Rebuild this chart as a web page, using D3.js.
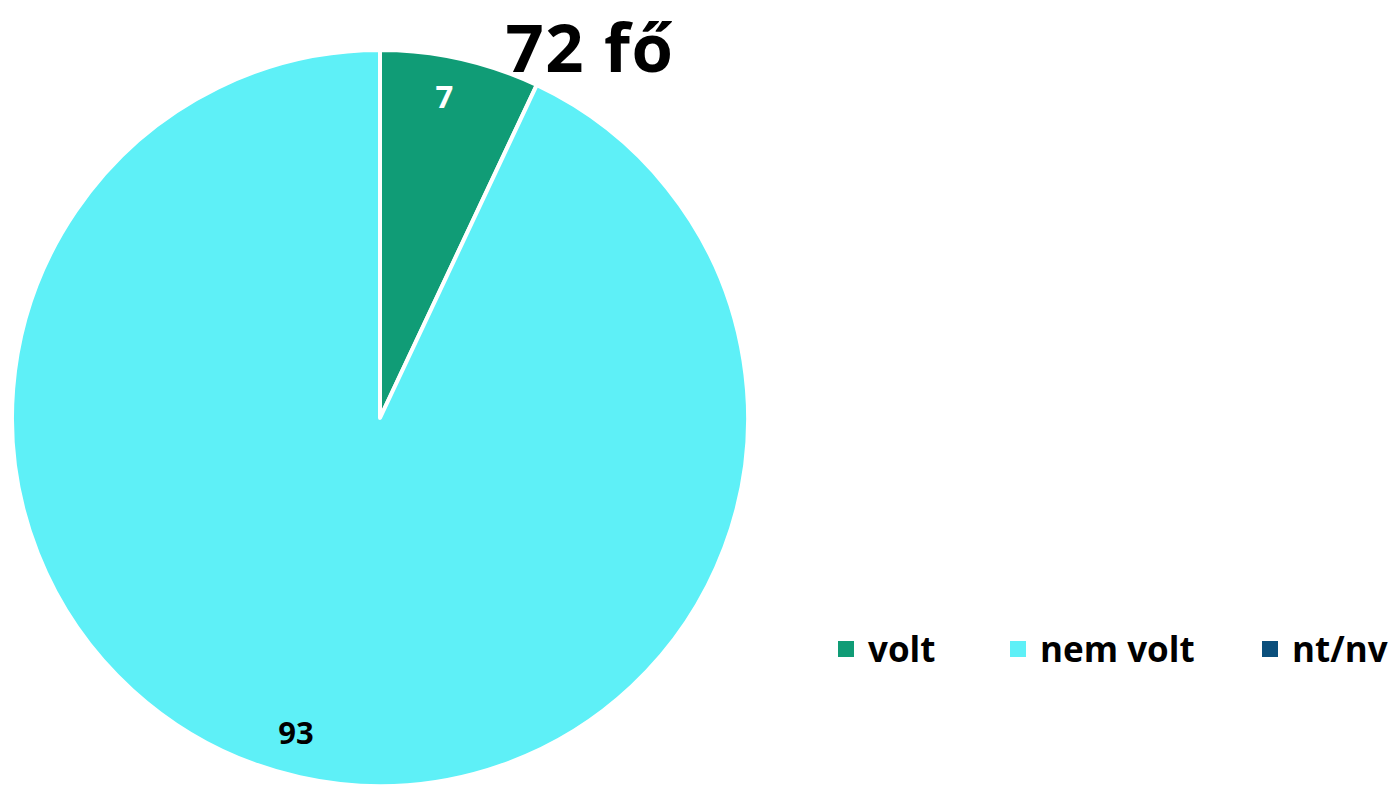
<!DOCTYPE html>
<html>
<head>
<meta charset="utf-8">
<title>72 fő</title>
<script src="https://cdn.jsdelivr.net/npm/d3@7"></script>
<style>
  * { margin: 0; padding: 0; }
  body { background: #fff; }
  text { font-family: "Open Sans", "DejaVu Sans", sans-serif; font-weight: bold; }
</style>
</head>
<body>
<div id="show"></div>
<script>
  // adatok
  var categories = ["volt", "nem volt", "nt/nv"];
  var values = [7, 93, 0];
  var colors = ["#109c76", "#5ef0f7", "#0b4f7c"];
  var labelColors = ["#ffffff", "#000000", "#ffffff"];
  var title = "72 fő";

  var width = 1400, height = 786;
  var cx = 380, cy = 418, radius = 368;

  var svg = d3.select("#show").append("svg")
              .attr("width", width)
              .attr("height", height);

  var data = categories.map(function(c, i){
    return { name: c, value: values[i], color: colors[i], labelColor: labelColors[i] };
  });

  var pie = d3.pie().sort(null).value(function(d){ return d.value; });
  var arc = d3.arc().innerRadius(0).outerRadius(radius);
  var arcs = pie(data);

  var g = svg.append("g").attr("transform", "translate(" + cx + "," + cy + ")");

  g.selectAll("path.slice")
   .data(arcs.filter(function(d){ return d.data.value > 0; }))
   .enter().append("path")
   .attr("class", "slice")
   .attr("d", arc)
   .attr("fill", function(d){ return d.data.color; })
   .attr("stroke", "#fff")
   .attr("stroke-width", 4)
   .attr("stroke-linejoin", "round");

  // címkék helye: [szögarány a szeleten belül, sugár arány]
  var labelPos = {
    "volt": [0.45, 0.89],
    "nem volt": [0.507, 0.886]
  };
  g.selectAll("text.lbl")
   .data(arcs.filter(function(d){ return d.data.value > 0; }))
   .enter().append("text")
   .attr("class", "lbl")
   .attr("transform", function(d){
      var p = labelPos[d.data.name];
      var a = d.startAngle + (d.endAngle - d.startAngle) * p[0];
      var r = radius * p[1];
      return "translate(" + (Math.sin(a) * r) + "," + (-Math.cos(a) * r) + ")";
   })
   .attr("text-anchor", "middle")
   .attr("dy", "0.36em")
   .attr("font-size", 31)
   .attr("fill", function(d){ return d.data.labelColor; })
   .text(function(d){ return d.value; });

  svg.append("text")
     .attr("x", 590)
     .attr("y", 72)
     .attr("text-anchor", "middle")
     .attr("font-size", 67)
     .attr("letter-spacing", 1.5)
     .attr("fill", "#000")
     .text(title);

  // jelmagyarázat
  var legendX = d3.scaleOrdinal().domain(categories).range([838, 1010, 1262]);
  var legend = svg.selectAll("g.legend")
                  .data(data)
                  .enter().append("g")
                  .attr("class", "legend")
                  .attr("transform", function(d){ return "translate(" + legendX(d.name) + ",641)"; });
  legend.append("rect")
        .attr("width", 16).attr("height", 16)
        .attr("fill", function(d){ return d.color; });
  legend.append("text")
        .attr("x", 30)
        .attr("y", 21)
        .attr("font-size", 35)
        .attr("fill", "#000")
        .text(function(d){ return d.name; });
</script>
</body>
</html>
